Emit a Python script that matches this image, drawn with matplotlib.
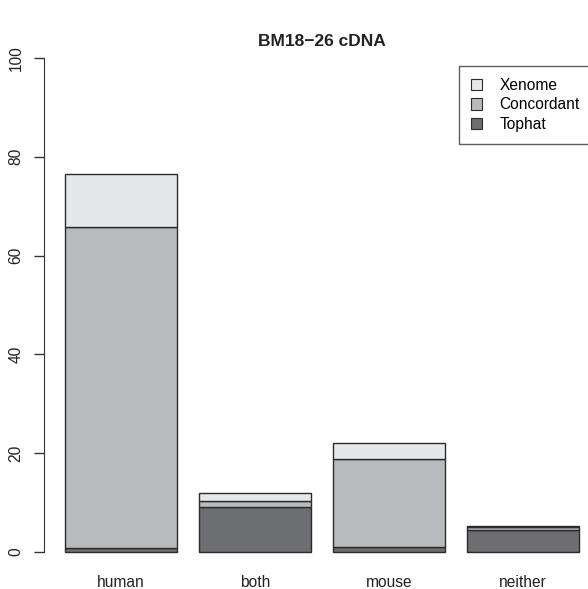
import matplotlib
matplotlib.use("Agg")
import matplotlib.pyplot as plt
from matplotlib.patches import Patch
import numpy as np

plt.rcParams['font.family'] = ['Liberation Sans', 'DejaVu Sans']

# read percentages per category, stacked bottom to top
categories = ['human', 'both', 'mouse', 'neither']
tophat = [0.9, 9.1, 1.0, 4.4]
concordant = [64.9, 1.3, 17.8, 0.7]
xenome = [10.7, 1.5, 3.3, 0.2]

series_names = ['Tophat', 'Concordant', 'Xenome']
series_colors = ['#6d6e71', '#b9babd', '#e6e7e9']
edge = '#2b2b2b'
fs = 11.2

W, H = 588, 589
fig = plt.figure(figsize=(W / 100, H / 100), dpi=100)
# plot region runs a little past the right edge, like the R device did
ax = fig.add_axes([44.4 / W, 17.2 / H, 555.2 / W, 533.6 / H])

x = 0.2 + np.arange(len(categories)) * 1.2 + 0.5
bottom = np.zeros(len(categories))
for vals, name, col in zip([tophat, concordant, xenome], series_names, series_colors):
    ax.bar(x, vals, width=1.0, bottom=bottom, color=col, edgecolor=edge,
           linewidth=1.0, label=name)
    bottom += np.array(vals)

ax.set_xlim(0.016, 4.984)
ax.set_ylim(-4, 104)

for s in ['top', 'right', 'bottom']:
    ax.spines[s].set_visible(False)
ax.spines['left'].set_bounds(0, 100)
ax.spines['left'].set_color('#333333')
ax.set_yticks([0, 20, 40, 60, 80, 100])
ax.set_yticklabels(['0', '20', '40', '60', '80', '100'], rotation=90, va='center',
                   fontsize=fs, color='#222222')
ax.tick_params(axis='y', length=7, width=1.0, pad=8, color='#333333')
ax.set_xticks(x)
ax.set_xticklabels(categories, fontsize=fs, color='#222222')
ax.tick_params(axis='x', length=0, pad=2)

fig.text(322 / W, 1 - 42 / H, 'BM18\u221226 cDNA', ha='center', va='center',
         fontsize=12.5, fontweight='bold', color='#222222')

handles = [Patch(facecolor=c, edgecolor=edge, linewidth=0.8) for c in series_colors[::-1]]
leg = fig.legend(handles, series_names[::-1], loc='upper left',
                 bbox_to_anchor=(459 / W, 1 - 143 / H, 150 / W, 77 / H),
                 bbox_transform=fig.transFigure, mode='expand', borderaxespad=0,
                 fontsize=fs, frameon=True, fancybox=False, handlelength=0.75,
                 handleheight=0.75, handletextpad=1.1, labelspacing=0.3,
                 borderpad=0.75)
leg.get_frame().set_edgecolor('#333333')
leg.get_frame().set_linewidth(1.0)

fig.savefig('out.png', dpi=100)
